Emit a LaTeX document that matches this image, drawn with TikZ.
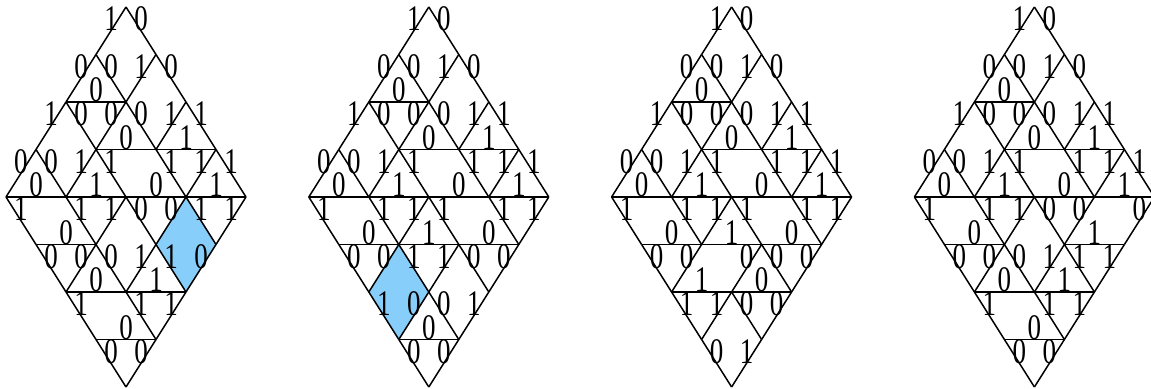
\documentclass[tikz,border=0pt]{standalone}
\usepackage{fontspec}
\setmainfont{Liberation Serif}
\usetikzlibrary{positioning}
\definecolor{rhombblue}{RGB}{135,206,250}

\begin{document}
\begin{tikzpicture}[
    x=0.5pt, y=-0.5pt,
    edge/.style={line width=0.75pt},
    lab/.style={anchor=base, inner sep=0pt, font=\fontsize{18}{18}\selectfont},
    equiv/.style={fill=rhombblue}
]
    \useasboundingbox (0,0) rectangle (1151,389);

    % lattice points of the four diamonds
    \foreach \k/\cx in {1/126,2/428.8,3/731.6,4/1034.4}
      \foreach \r in {0,...,8}
        \foreach \j in {0,...,8}
          \coordinate (P\k-\r-\j) at ({\cx+30*(\j-4)},{7+47.5*\r});

    % blue pieces
    \fill[equiv] (P1-4-6) -- (P1-5-5) -- (P1-6-6) -- (P1-5-7) -- cycle;
    \fill[equiv] (P2-5-3) -- (P2-6-2) -- (P2-7-3) -- (P2-6-4) -- cycle;

    % upper half (same in all four)
    \foreach \k in {1,...,4}
      \foreach \ra/\ja/\rb/\jb/\v in {0/4/1/3/1, 0/4/1/5/0, 1/3/2/2/0, 1/3/2/4/0, 1/5/2/4/1, 1/5/2/6/0,
          2/2/2/4/0, 2/2/3/1/1, 2/2/3/3/0, 2/4/3/3/0, 2/4/3/5/0, 2/6/3/5/1, 2/6/3/7/1,
          3/3/3/5/0, 3/5/3/7/1, 3/1/4/0/0, 3/1/4/2/0, 3/3/4/2/1, 3/3/4/4/1, 3/5/4/6/1, 3/7/4/6/1, 3/7/4/8/1,
          4/0/4/2/0, 4/2/4/4/1, 4/4/4/6/0, 4/6/4/8/1}
        \draw[edge] (P\k-\ra-\ja) -- node[lab] (L\k-\ra\ja\rb\jb) {\scalebox{.75}[1]{\v}} (P\k-\rb-\jb);

    % lower half, first diamond
    \foreach \ra/\ja/\rb/\jb/\v in {4/0/5/1/1, 4/2/5/3/1, 4/4/5/3/1, 4/4/5/5/0, 4/6/5/5/0, 4/6/5/7/1, 4/8/5/7/1,
        5/1/5/3/0, 5/1/6/2/0, 5/3/6/2/0, 5/3/6/4/0, 5/5/6/4/1, 5/5/6/6/1, 5/7/6/6/0,
        6/2/6/4/0, 6/4/6/6/1, 6/2/7/3/1, 6/4/7/5/1, 6/6/7/5/1, 7/3/7/5/0, 7/3/8/4/0, 7/5/8/4/0}
      \draw[edge] (P1-\ra-\ja) -- node[lab] (L1-\ra\ja\rb\jb) {\scalebox{.75}[1]{\v}} (P1-\rb-\jb);

    % lower half, second diamond
    \foreach \ra/\ja/\rb/\jb/\v in {4/0/5/1/1, 4/2/5/3/1, 4/4/5/3/1, 4/4/5/5/1, 4/6/5/7/1, 4/8/5/7/1,
        5/1/5/3/0, 5/3/5/5/1, 5/5/5/7/0, 5/1/6/2/0, 5/3/6/2/0, 5/3/6/4/1, 5/5/6/4/1, 5/5/6/6/0, 5/7/6/6/0,
        6/2/7/3/1, 6/4/7/3/0, 6/4/7/5/0, 6/6/7/5/1, 7/3/7/5/0, 7/3/8/4/0, 7/5/8/4/0}
      \draw[edge] (P2-\ra-\ja) -- node[lab] (L2-\ra\ja\rb\jb) {\scalebox{.75}[1]{\v}} (P2-\rb-\jb);

    % lower half, third diamond
    \foreach \ra/\ja/\rb/\jb/\v in {4/0/5/1/1, 4/2/5/3/1, 4/4/5/3/1, 4/4/5/5/1, 4/6/5/7/1, 4/8/5/7/1,
        5/1/5/3/0, 5/3/5/5/1, 5/5/5/7/0, 5/1/6/2/0, 5/3/6/2/0, 5/5/6/4/0, 5/5/6/6/0, 5/7/6/6/0,
        6/2/6/4/1, 6/4/6/6/0, 6/2/7/3/1, 6/4/7/3/1, 6/4/7/5/0, 6/6/7/5/0, 7/3/8/4/0, 7/5/8/4/1}
      \draw[edge] (P3-\ra-\ja) -- node[lab] (L3-\ra\ja\rb\jb) {\scalebox{.75}[1]{\v}} (P3-\rb-\jb);

    % lower half, fourth diamond
    \foreach \ra/\ja/\rb/\jb/\v in {4/0/5/1/1, 4/2/5/3/1, 4/4/5/3/1, 4/4/5/5/0, 4/6/5/5/0, 4/8/5/7/0,
        5/1/5/3/0, 5/5/5/7/1, 5/1/6/2/0, 5/3/6/2/0, 5/3/6/4/0, 5/5/6/4/1, 5/5/6/6/1, 5/7/6/6/1,
        6/2/6/4/0, 6/4/6/6/1, 6/2/7/3/1, 6/4/7/5/1, 6/6/7/5/1, 7/3/7/5/0, 7/3/8/4/0, 7/5/8/4/0}
      \draw[edge] (P4-\ra-\ja) -- node[lab] (L4-\ra\ja\rb\jb) {\scalebox{.75}[1]{\v}} (P4-\rb-\jb);

\end{tikzpicture}
\end{document}
